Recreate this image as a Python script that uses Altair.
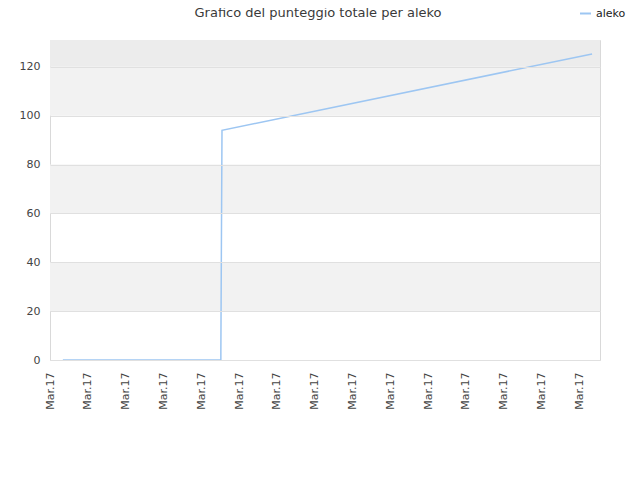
import altair as alt
import pandas as pd

# data
series_name = ["aleko"] * 5
x_vals = [0.34, 4.52, 4.52, 4.55, 14.34]
y_vals = [0, 0, 3.5, 94, 125.3]
tick_positions = list(range(15))
tick_label = "Mar.17"
band_lo = [20, 60, 100, 120]
band_hi = [40, 80, 120, 131]
band_fill = ["#f2f2f2", "#f2f2f2", "#f2f2f2", "#ececec"]
x_min, x_max = 0, 14.55
y_min, y_max = 0, 131
title_text = "Grafico del punteggio totale per aleko"

line_df = pd.DataFrame({"x": x_vals, "y": y_vals, "serie": series_name})
band_df = pd.DataFrame({"lo": band_lo, "hi": band_hi, "fill": band_fill,
                        "x0": [x_min] * 4, "x1": [x_max] * 4})
title_df = pd.DataFrame({"t": [title_text]})

xscale = alt.Scale(domain=[x_min, x_max], nice=False, zero=False)
yscale = alt.Scale(domain=[y_min, y_max], nice=False)

xaxis = alt.Axis(values=tick_positions, labelExpr=f"'{tick_label}'",
                 labelAngle=270, labelAlign="right", labelBaseline="middle",
                 labelPadding=12, ticks=False, domain=False, grid=False,
                 labelOverlap=False, labelBound=False,
                 labelFont="DejaVu Sans", labelFontSize=11, labelColor="#444444")
yaxis = alt.Axis(values=[0, 20, 40, 60, 80, 100, 120], ticks=False, domain=False,
                 grid=True, gridColor="#e0e0e0", labelPadding=10, zindex=1,
                 labelFont="DejaVu Sans", labelFontSize=11, labelColor="#444444")

bands = alt.Chart(band_df).mark_rect().encode(
    x=alt.X("x0:Q", scale=xscale, title=None, axis=xaxis),
    x2="x1:Q",
    y=alt.Y("lo:Q", scale=yscale, title=None, axis=yaxis),
    y2="hi:Q",
    fill=alt.Fill("fill:N", scale=None),
)

line = alt.Chart(line_df).mark_line(strokeWidth=1.5).encode(
    x=alt.X("x:Q", scale=xscale, title=None, axis=xaxis),
    y=alt.Y("y:Q", scale=yscale, title=None, axis=yaxis),
    color=alt.Color("serie:N", scale=alt.Scale(range=["#9dc6f2"]),
                    legend=alt.Legend(title=None, orient="none", legendX=529, legendY=-33,
                                      symbolType="stroke", symbolSize=120, symbolStrokeWidth=2,
                                      labelFont="DejaVu Sans", labelFontSize=11,
                                      labelColor="#222222")),
)

title = alt.Chart(title_df).mark_text(
    font="DejaVu Sans", fontSize=13, color="#3a3a3a", align="center", baseline="middle"
).encode(text="t:N", x=alt.value(268), y=alt.value(-27))

chart = alt.layer(bands, line, title).properties(
    width=550, height=320,
    autosize=alt.AutoSizeParams(type="none"),
    padding={"left": 42, "top": 32, "right": 32, "bottom": 72},
).configure_view(stroke="#d9d9d9", strokeWidth=1).configure_axisX(labelOverlap=False)

chart.save("out.html", embed_options={"renderer": "svg", "actions": False})
